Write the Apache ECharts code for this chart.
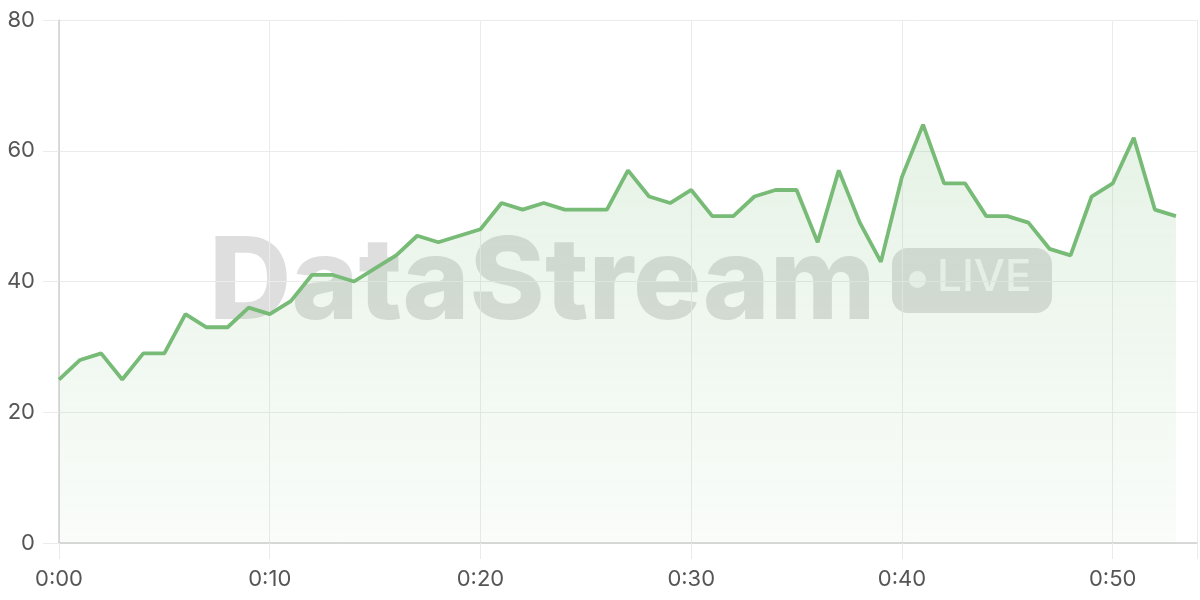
<!DOCTYPE html>
<html>
<head>
<meta charset="utf-8">
<script src="https://cdn.jsdelivr.net/npm/echarts@6/dist/echarts.min.js"></script>
<style>
  html, body { margin: 0; padding: 0; background: #fff; }
  #chart { width: 1200px; height: 600px; }
</style>
</head>
<body>
<div id="chart"></div>
<script>
// minutes since start
var minutes = [];
for (var m = 0; m <= 53; m++) minutes.push(m);

// viewers per minute
var values = [25, 28, 29, 25, 29, 29, 35, 33, 33, 36,
              35, 37, 41, 41, 40, 42, 44, 47, 46, 47,
              48, 52, 51, 52, 51, 51, 51, 57, 53, 52,
              54, 50, 50, 53, 54, 54, 46, 57, 49, 43,
              56, 64, 55, 55, 50, 50, 49, 45, 44, 53,
              55, 62, 51, 50];

var xTickLabels = ['0:00', '0:10', '0:20', '0:30', '0:40', '0:50'];
var yTickLabels = ['0', '20', '40', '60', '80'];

var green = '#77bb77';
var gridLine = '#ebebeb';
var axisCol = '#cfcfcf';
var labelCol = '#555';

var chart = echarts.init(document.getElementById('chart'));

var option = {
    animation: false,
    grid: { left: 59, right: 0, top: 20, bottom: 57 },
    graphic: [
        {
            type: 'text', left: 209, top: 228, z: 0, silent: true,
            style: {
                text: 'DataStream',
                font: '800 114px Inter',
                fill: 'rgba(0,0,0,0.13)'
            }
        },
        {
            type: 'rect', left: 892, top: 248, z: 0, silent: true,
            shape: { width: 160, height: 65, r: 16 },
            style: { fill: 'rgba(0,0,0,0.13)' }
        },
        {
            type: 'circle', left: 909, top: 271, z: 0, silent: true,
            shape: { r: 8.5 },
            style: { fill: 'rgba(255,255,255,0.7)' }
        },
        {
            type: 'text', left: 937, top: 256, z: 0, silent: true,
            style: {
                text: 'LIVE',
                font: '500 44px Inter',
                fill: 'rgba(255,255,255,0.7)'
            }
        }
    ],
    xAxis: {
        type: 'value',
        min: 0,
        max: 54,
        interval: 10,
        axisLine: { show: true, lineStyle: { color: axisCol, width: 1.5 } },
        axisTick: { show: true, length: 16, lineStyle: { color: gridLine } },
        splitLine: { show: true, lineStyle: { color: gridLine, width: 1 } },
        axisLabel: {
            margin: 25,
            color: labelCol,
            fontSize: 22,
            fontFamily: 'Inter',
            formatter: function (v) { return xTickLabels[v / 10]; }
        }
    },
    yAxis: {
        type: 'value',
        min: 0,
        max: 80,
        interval: 20,
        axisLine: { show: true, lineStyle: { color: axisCol, width: 1.5 } },
        axisTick: { show: true, length: 16, lineStyle: { color: gridLine } },
        splitLine: { show: true, lineStyle: { color: gridLine, width: 1 } },
        axisLabel: {
            margin: 24,
            color: labelCol,
            fontSize: 22,
            fontFamily: 'Inter',
            formatter: function (v) { return yTickLabels[v / 20]; }
        }
    },
    series: [{
        type: 'line',
        data: minutes.map(function (m, i) { return [m, values[i]]; }),
        symbol: 'none',
        lineStyle: { color: green, width: 3.8 },
        areaStyle: {
            color: new echarts.graphic.LinearGradient(0, 0, 0, 1, [
                { offset: 0, color: 'rgba(119,187,119,0.26)' },
                { offset: 1, color: 'rgba(119,187,119,0.06)' }
            ])
        },
        z: 2
    }]
};

chart.setOption(option);
</script>
</body>
</html>
